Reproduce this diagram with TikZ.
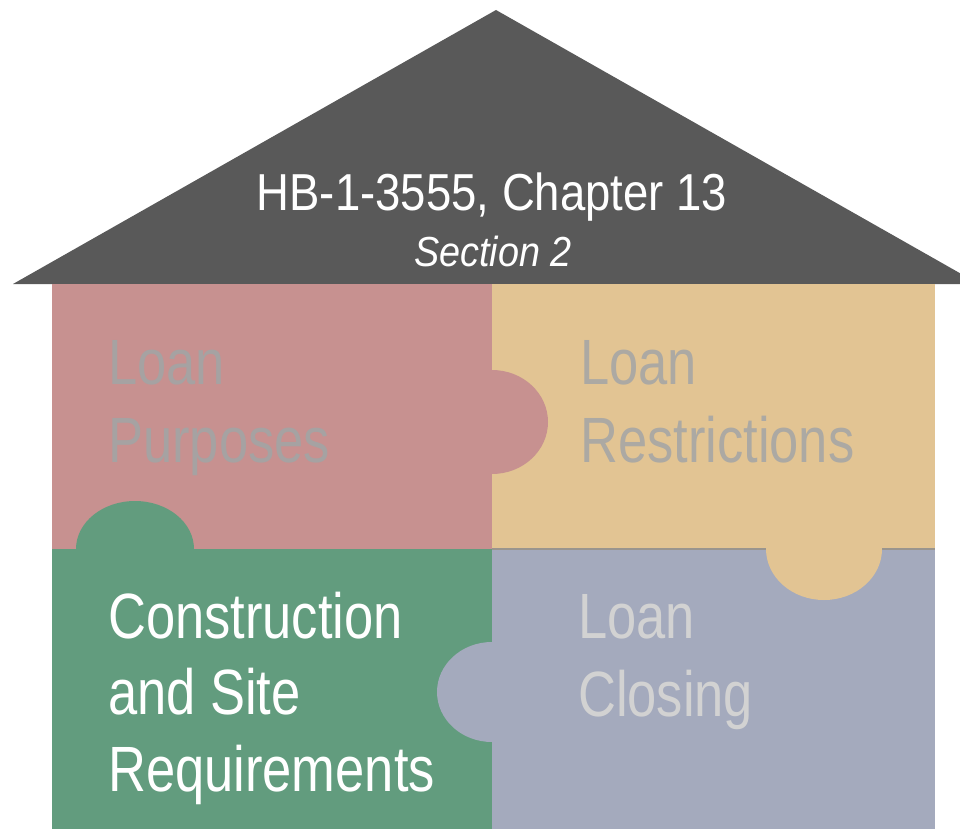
\documentclass[tikz,border=0pt]{standalone}
\usepackage{fontspec}
\usepackage{graphicx}
\setmainfont{Liberation Sans}
\definecolor{roofgray}{HTML}{595959}
\definecolor{purposered}{HTML}{C79190}
\definecolor{restricttan}{HTML}{E2C493}
\definecolor{sitegreen}{HTML}{629C7E}
\definecolor{closingblue}{HTML}{A4AABD}
\definecolor{seamgray}{HTML}{9A958E}
\definecolor{dimtext}{HTML}{A6A2A2}
\definecolor{dimtexttan}{HTML}{ACA9A3}
\definecolor{lighttext}{HTML}{D2D2D2}
\newcommand\squeezed[2]{\scalebox{#1}[1]{#2}}
\begin{document}
\begin{tikzpicture}[x=1pt,y=-1pt,
  piecetext/.style={anchor=base west, inner sep=0pt,
    font=\fontsize{64}{64}\selectfont},
  rooftext/.style={anchor=base, inner sep=0pt, text=white}]
\useasboundingbox (0,0) rectangle (960,829);
\clip (0,0) rectangle (960,829);

% roof
\fill[roofgray] (13,284) -- (496,10) -- (979,284) -- cycle;

% the four puzzle pieces
\fill[purposered]   (52,284)  rectangle (492,549);
\fill[restricttan]  (492,284) rectangle (935,549);
\fill[sitegreen]    (52,549)  rectangle (492,829);
\fill[closingblue]  (492,549) rectangle (935,829);

% seam between the two right-hand pieces
\draw[seamgray, line width=1.5pt] (492,549) -- (935,549);

% interlocking tabs
\fill[purposered]  (492,422) ellipse [x radius=56, y radius=52];
\fill[sitegreen]   (135,549) ellipse [x radius=59, y radius=48];
\fill[restricttan] (824,549) ellipse [x radius=58, y radius=51];
\fill[closingblue] (492,692) ellipse [x radius=55, y radius=50];

% roof titles
\node[rooftext, font=\fontsize{52}{52}\selectfont] (title) at (492,210)
  {\squeezed{0.875}{HB-1-3555, Chapter 13}};
\node[rooftext, font=\fontsize{42}{42}\selectfont\itshape] (section) at (493,266)
  {\squeezed{0.9}{Section 2}};

% piece labels
\node[piecetext, text=dimtext] (purpose1) at (108,384) {\squeezed{0.82}{Loan}};
\node[piecetext, text=dimtext] (purpose2) at (108,462) {\squeezed{0.82}{Purposes}};

\node[piecetext, text=dimtexttan] (restrict1) at (580,384) {\squeezed{0.82}{Loan}};
\node[piecetext, text=dimtexttan] (restrict2) at (580,462) {\squeezed{0.82}{Restrictions}};

\node[piecetext, text=white] (site1) at (108,638) {\squeezed{0.82}{Construction}};
\node[piecetext, text=white] (site2) at (108,714) {\squeezed{0.82}{and Site}};
\node[piecetext, text=white] (site3) at (108,791) {\squeezed{0.82}{Requirements}};

\node[piecetext, text=lighttext] (closing1) at (578,638) {\squeezed{0.82}{Loan}};
\node[piecetext, text=lighttext] (closing2) at (578,716) {\squeezed{0.82}{Closing}};
\end{tikzpicture}
\end{document}
